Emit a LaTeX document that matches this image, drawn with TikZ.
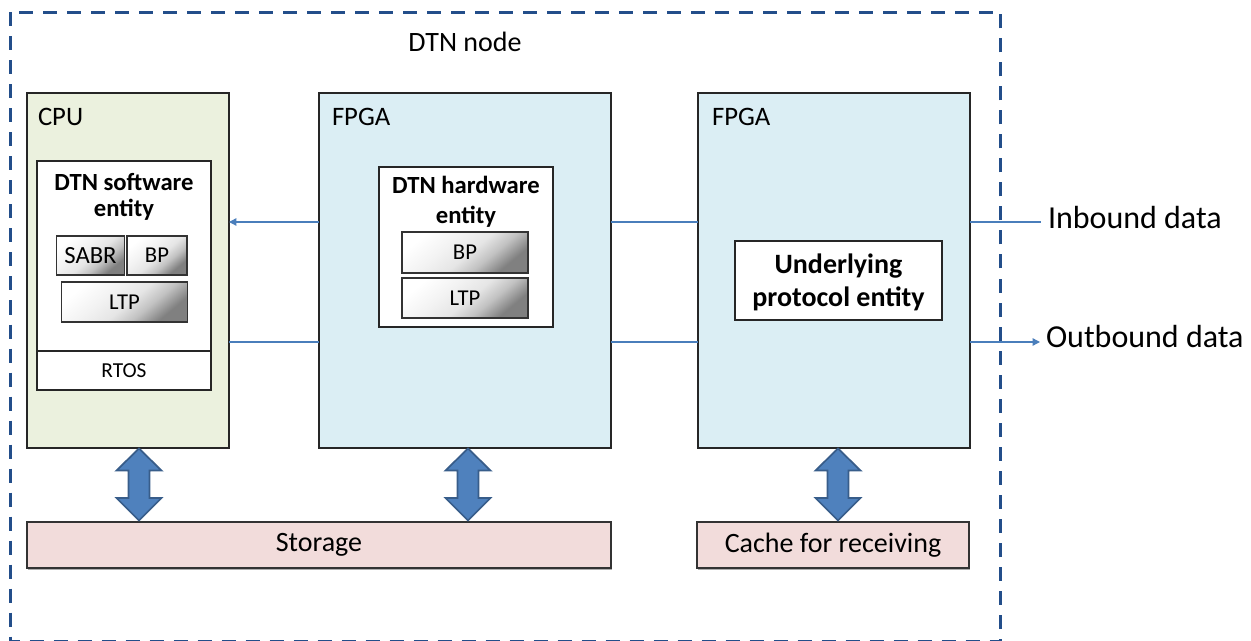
\documentclass[tikz,border=0pt]{standalone}
\usepackage{fontspec}
\setmainfont{Carlito}
\usetikzlibrary{arrows.meta,shadows,calc}
\definecolor{dashblue}{RGB}{35,78,138}
\definecolor{cpufill}{RGB}{235,241,222}
\definecolor{fpgafill}{RGB}{219,238,244}
\definecolor{storfill}{RGB}{242,220,219}
\definecolor{linkblue}{RGB}{74,126,187}
\definecolor{arrfill}{RGB}{79,129,189}
\definecolor{arrdraw}{RGB}{56,93,138}
\pgfdeclareverticalshading{layershade}{100bp}{color(0bp)=(black!50); color(27bp)=(black!50); color(38bp)=(black!24); color(48bp)=(black!10); color(60bp)=(black!5); color(75bp)=(white); color(100bp)=(white)}
\newcommand\DblArrow[1]{%
  \draw[bigarrow] (#1,448.5) -- ++(22.5,22) -- ++(-12,0) -- (#1+10.5,498) -- ++(12,0)
    -- (#1,520.5) -- (#1-22.5,498) -- ++(12,0) -- (#1-10.5,470.5) -- ++(-12,0) -- cycle;}
\begin{document}
\begin{tikzpicture}[x=0.75pt,y=-0.75pt,
  every node/.style={inner sep=0pt, outer sep=0pt},
  block/.style={draw=black!85, line width=0.9pt, rectangle},
  gbox/.style={draw=black!80, line width=0.8pt, rectangle, shading=layershade, shading angle=40, font=\fontsize{17}{20}\selectfont},
  stbox/.style={draw=black!80, line width=0.9pt, rectangle, fill=storfill, font=\fontsize{21}{25}\selectfont,
     drop shadow={shadow xshift=1pt, shadow yshift=-1.8pt, opacity=0.45, fill=black!70}},
  title/.style={anchor=base west, font=\fontsize{20}{24}\selectfont},
  btext/.style={anchor=base, font=\bfseries\fontsize{18.5}{22}\selectfont},
  ulabel/.style={anchor=base, font=\bfseries\fontsize{21}{25}\selectfont},
  iolabel/.style={anchor=base west, font=\fontsize{24}{28}\selectfont},
  link/.style={draw=linkblue, line width=1pt},
  tip/.style={-{Triangle[length=5.5pt,width=5.5pt]}},
  bigarrow/.style={fill=arrfill, draw=arrdraw, line width=1.3pt, line join=miter},
  outer/.style={draw=dashblue, line width=2.8pt, dash pattern=on 10.5pt off 7.5pt}
]
\useasboundingbox (0,0) rectangle (1251,641);
\clip (0,0) rectangle (1251,641);

% main blocks
\node[block, fill=cpufill, minimum width=151.5pt, minimum height=266.25pt] (cpu) at (128,270.5) {};
\node[block, fill=fpgafill, minimum width=219pt, minimum height=266.25pt] (fpgaA) at (465,270.5) {};
\node[block, fill=fpgafill, minimum width=204pt, minimum height=266.25pt] (fpgaB) at (834,270.5) {};

\node[title] (tcpu) at (38,126) {CPU};
\node[title] (tfa) at (332,126) {FPGA};
\node[title] (tfb) at (712,126) {FPGA};
\node[anchor=base, font=\fontsize{21}{25}\selectfont] (tnode) at (465,52) {DTN node};

% CPU internals
\node[block, fill=white, minimum width=130.5pt, minimum height=142.5pt] (swent) at (124,256) {};
\node[block, fill=white, minimum width=130.5pt, minimum height=29.25pt, font=\fontsize{16}{19}\selectfont] (rtos) at (124,370.5) {RTOS};
\node[btext] (sw1) at (124,191) {DTN software};
\node[btext] (sw2) at (124,217) {entity};
\node[gbox, minimum width=51pt, minimum height=29.25pt, font=\fontsize{18.5}{22}\selectfont] (sabr) at (90.5,255.5) {SABR};
\node[gbox, minimum width=45pt, minimum height=29.25pt] (bpA) at (157,255.5) {BP};
\node[gbox, minimum width=94.5pt, minimum height=30pt] (ltpA) at (124.5,302) {LTP};

% FPGA A internals
\node[block, fill=white, minimum width=130.5pt, minimum height=120pt] (hwent) at (466,247) {};
\node[btext] (hw1) at (466,194) {DTN hardware};
\node[btext] (hw2) at (466,224) {entity};
\node[gbox, minimum width=94.5pt, minimum height=30.75pt] (bpB) at (465,252.5) {BP};
\node[gbox, minimum width=94.5pt, minimum height=30pt] (ltpB) at (465,298) {LTP};

% FPGA B internals
\node[block, fill=white, minimum width=155.25pt, minimum height=59.25pt] (under) at (838.5,280.5) {};
\node[ulabel] (ul1) at (838.5,274) {Underlying};
\node[ulabel] (ul2) at (838.5,306) {protocol entity};

% storage
\node[stbox, minimum width=438pt, minimum height=34.5pt] (stor) at (319,545) {Storage};
\node[stbox, minimum width=204pt, minimum height=34.5pt] (cache) at (833,545) {Cache for receiving};

% big double arrows
\DblArrow{139}
\DblArrow{468}
\DblArrow{838}

% links
\coordinate (yin) at (0,222);
\coordinate (yout) at (0,342);
\draw[link, tip] (fpgaA.west |- yin) -- (cpu.east |- yin);
\draw[link] (cpu.east |- yout) -- (fpgaA.west |- yout);
\draw[link] (fpgaA.east |- yin) -- (fpgaB.west |- yin);
\draw[link] (fpgaA.east |- yout) -- (fpgaB.west |- yout);

\node[iolabel] (inl) at (1048,229) {Inbound data};
\node[iolabel] (outl) at (1046,347) {Outbound data};
\draw[link] (fpgaB.east |- yin) -- ($(inl.west |- yin)+(-7,0)$);
\draw[link, tip] (fpgaB.east |- yout) -- ($(outl.west |- yout)+(-6,0)$);

% outer dashed boundary
\draw[outer] (10.5,12.5) rectangle (1000.5,641.5);
\end{tikzpicture}
\end{document}
